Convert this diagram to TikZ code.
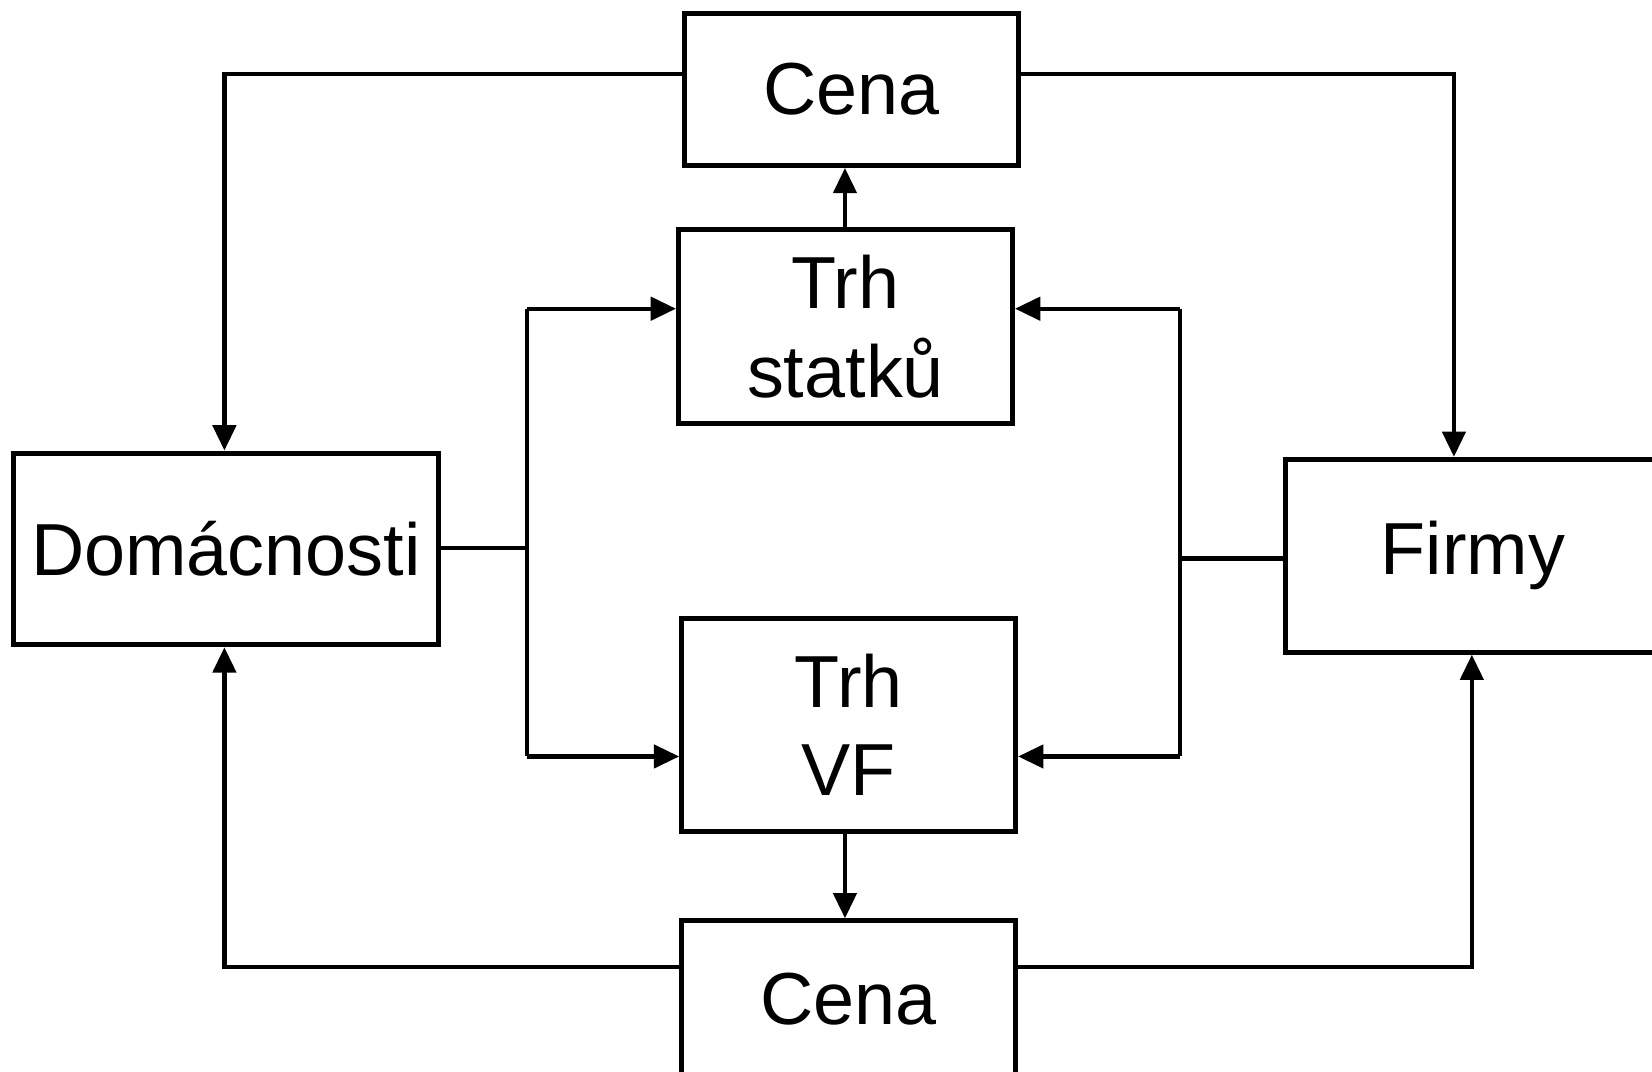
\documentclass[tikz,border=0pt]{standalone}
\usepackage{fontspec}
\setmainfont{Liberation Sans}
\usetikzlibrary{arrows.meta}
\begin{document}
\begin{tikzpicture}[x=1pt,y=-1pt,
  box/.style={draw,line width=4.8pt,rectangle,inner sep=0pt,align=center,
    font=\fontsize{70}{84}\selectfont},
  conn/.style={line width=4pt},
  arr/.style={conn,-{Triangle[length=24pt,width=22pt]}}]
\useasboundingbox (0,0) rectangle (1568,1017);
\node[box,minimum width=317pt,minimum height=144pt] (cenaT) at (808.5,85) {Cena};
\node[box,minimum width=317pt,minimum height=184pt] (trhS) at (802.5,310) {Trh\\statků};
\node[box,minimum width=403pt,minimum height=182pt] (dom) at (214.5,521) {Domácnosti};
\node[box,minimum width=356pt,minimum height=183pt] (firmy) at (1398,527.5) {Firmy};
\node[box,minimum width=317pt,minimum height=202pt] (trhV) at (805.5,688) {Trh\\VF};
\node[box,minimum width=317pt,minimum height=148pt] (cenaB) at (805.5,948) {Cena};
% corner coordinates
\coordinate (tl) at (213,70);
\coordinate (tr) at (1380,70);
\coordinate (bl) at (213,918);
\coordinate (br) at (1397,918);
\coordinate (ljoin) at (500,520);
\coordinate (lt) at (500,293);
\coordinate (lb) at (500,718);
\coordinate (rjoin) at (1120,530);
\coordinate (rt) at (1120,293);
\coordinate (rb) at (1120,718);
\coordinate (vx) at (802,0);
% top price
\draw[arr] (cenaT.west |- tl) -- (tl) -- (dom.north -| tl);
\draw[arr] (cenaT.east |- tr) -- (tr) -- (firmy.north -| tr);
\draw[arr] (trhS.north -| vx) -- (cenaT.south -| vx);
% households
\draw[conn] (dom.east |- ljoin) -- (ljoin);
\draw[conn] (lt) -- (lb);
\draw[arr] (lt) -- (trhS.west |- lt);
\draw[arr] (lb) -- (trhV.west |- lb);
% firms
\draw[conn] (firmy.west |- rjoin) -- (rjoin);
\draw[conn] (rt) -- (rb);
\draw[arr] (rt) -- (trhS.east |- rt);
\draw[arr] (rb) -- (trhV.east |- rb);
% bottom price
\draw[arr] (trhV.south -| vx) -- (cenaB.north -| vx);
\draw[arr] (cenaB.west |- bl) -- (bl) -- (dom.south -| bl);
\draw[arr] (cenaB.east |- br) -- (br) -- (firmy.south -| br);
\end{tikzpicture}
\end{document}
